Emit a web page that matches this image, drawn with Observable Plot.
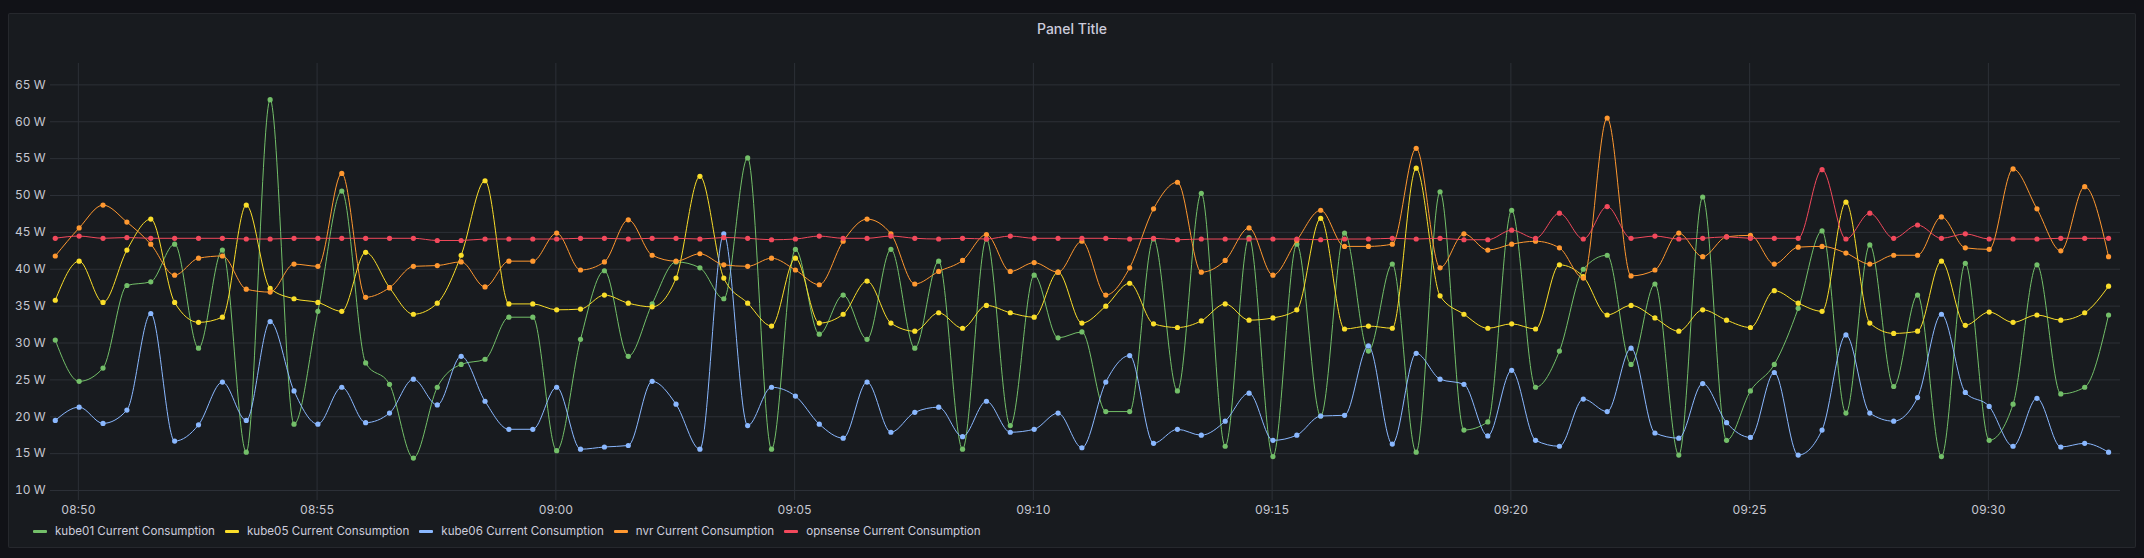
<!DOCTYPE html>
<html>
<head>
<meta charset="utf-8">
<script src="https://cdn.jsdelivr.net/npm/d3@7"></script>
<script src="https://cdn.jsdelivr.net/npm/@observablehq/plot@0.6"></script>
<style>
  body { margin: 0; background: #111217; width: 2144px; height: 558px; overflow: hidden; position: relative; font-family: Inter, "Noto Sans", sans-serif; }
  #panel { position: absolute; left: 8px; top: 13px; width: 2126px; height: 533px; background: #181b1f; border: 1px solid rgba(204,204,220,0.08); border-radius: 2px; }
  #title { position: absolute; left: 0; top: 21px; width: 2144px; text-align: center; font-size: 14px; line-height: 16px; font-weight: 500; color: #ccccdc; }
  #chart { position: absolute; left: 0; top: 0; }
  #legend { position: absolute; left: 33px; top: 523px; display: flex; font-size: 11.6px; line-height: 16px; color: #ccccdc; }
  #legend .item { display: flex; align-items: center; margin-right: 10px; }
  #legend .sw { width: 14px; height: 3px; border-radius: 1px; margin-right: 8px; }
</style>
</head>
<body>
<div id="panel"></div>
<div id="title">Panel Title</div>
<div id="chart"></div>
<div id="legend"></div>
<script>
// samples every 30 s
const startTime = Date.UTC(2023, 0, 1, 8, 49, 31)
const stepMs = 30000

const seriesNames = ["kube01 Current Consumption", "kube05 Current Consumption", "kube06 Current Consumption", "nvr Current Consumption", "opnsense Current Consumption"]
const seriesColors = ["#73BF69", "#FADE2A", "#8AB8FF", "#FF9830", "#F2495C"]

const kube01 = [30.4, 24.8, 26.6, 37.8, 38.3, 43.4, 29.3, 42.6, 15.2, 63.0,
  19.0, 34.3, 50.6, 27.3, 24.4, 14.4, 24.0, 27.1, 27.8, 33.5,
  33.5, 15.4, 30.5, 39.8, 28.2, 35.3, 41.0, 40.2, 36.0, 55.1,
  15.6, 42.7, 31.2, 36.5, 30.5, 42.7, 29.3, 41.1, 15.6, 44.1,
  18.8, 39.2, 30.7, 31.5, 20.7, 20.7, 44.1, 23.5, 50.3, 16.0,
  44.3, 14.6, 43.4, 20.1, 44.9, 28.9, 40.7, 15.2, 50.5, 18.2,
  19.3, 48.0, 24.0, 28.9, 40.0, 41.9, 27.1, 38.0, 14.8, 49.8,
  16.8, 23.5, 27.1, 34.7, 45.2, 20.5, 43.3, 24.1, 36.5, 14.6,
  40.8, 16.8, 21.7, 40.6, 23.1, 24.0, 33.8]

const kube05 = [35.8, 41.1, 35.5, 42.6, 46.8, 35.5, 32.8, 33.5, 48.7, 37.4,
  36.0, 35.5, 34.3, 42.3, 37.5, 33.9, 35.4, 41.9, 52.0, 35.3,
  35.3, 34.5, 34.6, 36.5, 35.4, 34.9, 38.8, 52.6, 38.8, 35.4,
  32.3, 41.5, 32.7, 33.9, 38.4, 32.7, 31.6, 34.1, 32.0, 35.1,
  34.1, 33.5, 39.6, 32.7, 35.0, 38.1, 32.6, 32.1, 33.0, 35.3,
  33.1, 33.4, 34.5, 46.9, 31.9, 32.3, 32.0, 53.7, 36.4, 33.9,
  32.0, 32.6, 31.9, 40.6, 39.0, 33.8, 35.1, 33.4, 31.6, 34.5,
  33.1, 32.1, 37.1, 35.4, 34.3, 49.1, 32.7, 31.3, 31.6, 41.1,
  32.4, 34.2, 32.8, 33.8, 33.1, 34.1, 37.7]

const kube06 = [19.5, 21.3, 19.1, 20.9, 34.0, 16.7, 18.9, 24.7, 19.5, 32.9,
  23.5, 19.0, 24.0, 19.2, 20.5, 25.1, 21.6, 28.2, 22.1, 18.3,
  18.3, 24.0, 15.6, 15.9, 16.1, 24.8, 21.7, 15.6, 44.8, 18.8,
  24.0, 22.8, 19.0, 17.1, 24.7, 17.9, 20.6, 21.3, 17.3, 22.1,
  17.9, 18.3, 20.5, 15.8, 24.7, 28.3, 16.4, 18.3, 17.5, 19.4,
  23.2, 16.8, 17.5, 20.1, 20.2, 29.6, 16.3, 28.6, 25.1, 24.4,
  17.4, 26.3, 16.8, 16.0, 22.4, 20.7, 29.3, 17.8, 17.1, 24.5,
  19.2, 17.2, 26.0, 14.8, 18.2, 31.1, 20.5, 19.4, 22.6, 33.9,
  23.3, 21.4, 16.0, 22.5, 15.9, 16.4, 15.2]

const nvr = [41.8, 45.6, 48.7, 46.4, 43.4, 39.2, 41.5, 41.8, 37.3, 36.9,
  40.7, 40.4, 53.0, 36.2, 37.5, 40.4, 40.5, 41.0, 37.6, 41.1,
  41.1, 44.9, 39.9, 41.0, 46.7, 41.9, 41.1, 42.1, 40.6, 40.4,
  41.5, 39.9, 37.9, 43.8, 46.8, 44.8, 38.0, 39.7, 41.2, 44.7,
  39.7, 40.9, 39.6, 43.8, 36.5, 40.2, 48.2, 51.8, 39.6, 41.2,
  45.6, 39.2, 43.9, 48.0, 43.1, 43.1, 43.4, 56.4, 40.2, 44.8,
  42.6, 43.4, 43.8, 42.9, 38.8, 60.5, 39.1, 39.9, 44.9, 41.7,
  44.4, 44.6, 40.7, 43.0, 43.1, 42.2, 40.7, 41.9, 41.9, 47.1,
  42.9, 42.7, 53.6, 48.2, 42.5, 51.2, 41.7]

const opnsense = [44.2, 44.5, 44.2, 44.3, 44.2, 44.2, 44.2, 44.2, 44.1, 44.1,
  44.2, 44.2, 44.2, 44.2, 44.2, 44.2, 43.9, 43.9, 44.1, 44.1,
  44.1, 44.1, 44.2, 44.2, 44.1, 44.2, 44.2, 44.1, 44.3, 44.2,
  44.0, 44.1, 44.5, 44.2, 44.2, 44.5, 44.2, 44.1, 44.2, 44.1,
  44.5, 44.2, 44.2, 44.2, 44.2, 44.1, 44.2, 44.0, 44.1, 44.1,
  44.1, 44.1, 44.1, 44.0, 44.1, 44.1, 44.2, 44.1, 44.2, 44.0,
  44.0, 45.3, 44.2, 47.6, 44.1, 48.5, 44.2, 44.5, 44.1, 44.2,
  44.4, 44.2, 44.2, 44.2, 53.5, 44.1, 47.6, 44.2, 46.0, 44.2,
  44.8, 44.1, 44.1, 44.1, 44.2, 44.2, 44.2]

const yTicks = [10, 15, 20, 25, 30, 35, 40, 45, 50, 55, 60, 65]

const allValues = [kube01, kube05, kube06, nvr, opnsense]
const gridColor = "#2c3037"
const textColor = "#c6c7d1"

const rows = seriesNames.map((name, i) =>
  allValues[i].map((v, k) => ({series: name, time: new Date(startTime + k * stepMs), value: v})))

const marks = [
  Plot.gridY({ticks: yTicks, stroke: gridColor, strokeOpacity: 1}),
  Plot.gridX({ticks: d3.utcMinute.every(5), stroke: gridColor, strokeOpacity: 1}),
  Plot.axisX({ticks: d3.utcMinute.every(5), tickFormat: d3.utcFormat("%H:%M"), tickSize: 10, tickPadding: 5,
    stroke: gridColor, strokeOpacity: 1, fill: textColor, label: null}),
  Plot.axisY({ticks: yTicks, tickFormat: d => d + " W", tickSize: 0, tickPadding: 5, fill: textColor, label: null})
]
rows.forEach((data, i) => {
  marks.push(Plot.line(data, {x: "time", y: "value", stroke: seriesColors[i], strokeWidth: 1, curve: "monotone-x"}))
  marks.push(Plot.dot(data, {x: "time", y: "value", fill: seriesColors[i], r: 2.6}))
})

const chart = Plot.plot({
  width: 2144,
  height: 520,
  marginLeft: 50,
  marginRight: 24,
  marginTop: 63,
  marginBottom: 30,
  style: {background: "transparent", color: textColor, fontSize: "12px", fontFamily: "Inter, 'Noto Sans', sans-serif", overflow: "visible"},
  x: {type: "utc", domain: [new Date(Date.UTC(2023, 0, 1, 8, 49, 25)), new Date(Date.UTC(2023, 0, 1, 9, 32, 46))]},
  y: {domain: [10, 67.9]},
  marks
})

d3.select("#chart").append(() => chart)

const legend = d3.select("#legend")
seriesNames.forEach((name, i) => {
  const item = legend.append("div").attr("class", "item")
  item.append("div").attr("class", "sw").style("background", seriesColors[i])
  item.append("span").text(name)
})
</script>
</body>
</html>
